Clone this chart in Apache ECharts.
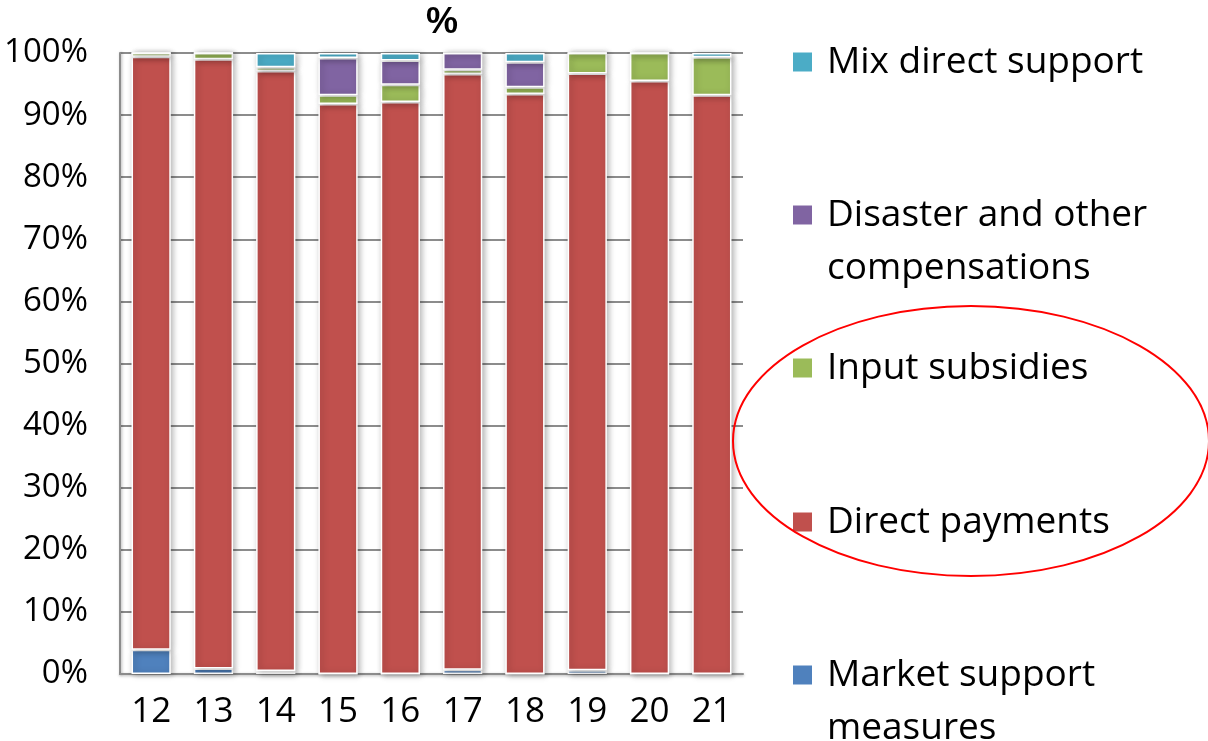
<!DOCTYPE html>
<html>
<head>
<meta charset="utf-8">
<script src="https://cdn.jsdelivr.net/npm/echarts@6/dist/echarts.min.js"></script>
<style>
  html, body { margin: 0; padding: 0; background: #fff; }
  #chart { width: 1208px; height: 741px; }
</style>
</head>
<body>
<div id="chart"></div>
<script>
// Years (2012–2021, shown as two digits)
const years = ['12', '13', '14', '15', '16', '17', '18', '19', '20', '21'];

// Share of total support by instrument, %
const marketSupport = [3.9, 0.9, 0.5, 0.0, 0.0, 0.7, 0.0, 0.6, 0.0, 0.0];
const directPayments = [95.5, 98.1, 96.6, 91.8, 92.1, 95.9, 93.4, 96.1, 95.5, 93.2];
const inputSubsidies = [0.6, 1.0, 0.6, 1.4, 2.8, 0.7, 1.1, 3.3, 4.5, 6.1];
const disasterComp = [0.0, 0.0, 0.0, 6.0, 3.9, 2.7, 4.0, 0.0, 0.0, 0.0];
const mixDirect = [0.0, 0.0, 2.3, 0.8, 1.2, 0.0, 1.5, 0.0, 0.0, 0.7];

const seriesNames = [
  'Market support\nmeasures',
  'Direct payments',
  'Input subsidies',
  'Disaster and other\ncompensations',
  'Mix direct support'
];
const seriesData = [marketSupport, directPayments, inputSubsidies, disasterComp, mixDirect];
const colors = ['#4F81BD', '#C0504D', '#9BBB59', '#8064A2', '#4BACC6'];

const FONT = '"Open Sans", Lato, sans-serif';
const LINE_H = 53;

// One legend block per series, listed top-down in reverse stack order.
// Two-line names get a blank leading line so the swatch sits beside the first line.
const swatchCentres = [675, 522, 368, 215, 62];
const legends = seriesNames.map((name, i) => {
  const twoLine = name.indexOf('\n') >= 0;
  return {
    data: [name],
    orient: 'vertical',
    left: 786,
    top: swatchCentres[i] - (twoLine ? LINE_H * 1.5 : LINE_H * 0.5) - 5,
    itemWidth: 21,
    itemHeight: 21,
    itemGap: 0,
    selectedMode: false,
    icon: 'rect',
    formatter: n => {
      const lines = n.split('\n').map(s => '{t|' + s + '}');
      return (lines.length > 1 ? ' \n' : '') + lines.join('\n');
    },
    textStyle: {
      fontFamily: FONT,
      fontSize: 37,
      color: '#000',
      lineHeight: LINE_H,
      rich: {
        t: { fontFamily: FONT, fontSize: 37, color: '#000', lineHeight: LINE_H, padding: [0, 0, 0, 9] }
      }
    }
  };
});

const chart = echarts.init(document.getElementById('chart'), null, { renderer: 'canvas' });

chart.setOption({
  animation: false,
  color: colors,
  title: {
    text: '%',
    left: 437,
    top: 0,
    textAlign: 'center',
    textStyle: { fontFamily: 'Liberation Sans, Arial, sans-serif', fontSize: 36, fontWeight: 'bold', color: '#000' }
  },
  legend: legends,
  grid: { left: 120, right: 465, top: 53, bottom: 67, containLabel: false },
  xAxis: {
    type: 'category',
    data: years,
    axisLine: { show: true, lineStyle: { color: '#8c8c8c', width: 2, shadowBlur: 3, shadowColor: 'rgba(0,0,0,0.3)', shadowOffsetY: 1 } },
    axisTick: { show: false },
    axisLabel: { fontFamily: FONT, fontSize: 35, color: '#000', margin: 21 }
  },
  yAxis: {
    type: 'value',
    min: 0,
    max: 100,
    interval: 10,
    axisLine: { show: true, lineStyle: { color: '#8c8c8c', width: 2, shadowBlur: 3, shadowColor: 'rgba(0,0,0,0.3)', shadowOffsetX: 1 } },
    axisTick: { show: false },
    splitLine: { show: true, lineStyle: { color: '#8c8c8c', width: 2 } },
    axisLabel: { fontFamily: FONT, fontSize: 33, color: '#000', margin: 32, formatter: '{value}%' }
  },
  series: seriesData.map((vals, i) => ({
    name: seriesNames[i],
    type: 'bar',
    stack: 'total',
    barWidth: '63%',
    data: vals,
    itemStyle: {
      color: colors[i],
      borderColor: '#ffffff',
      borderWidth: 1.5,
      shadowBlur: 6,
      shadowColor: 'rgba(0,0,0,0.3)',
      shadowOffsetX: 2,
      shadowOffsetY: 1
    }
  })),
  graphic: [{
    type: 'ellipse',
    shape: { cx: 971, cy: 441, rx: 238, ry: 135 },
    style: { fill: 'none', stroke: '#ff0000', lineWidth: 2 },
    z: 100
  }]
});
</script>
</body>
</html>
